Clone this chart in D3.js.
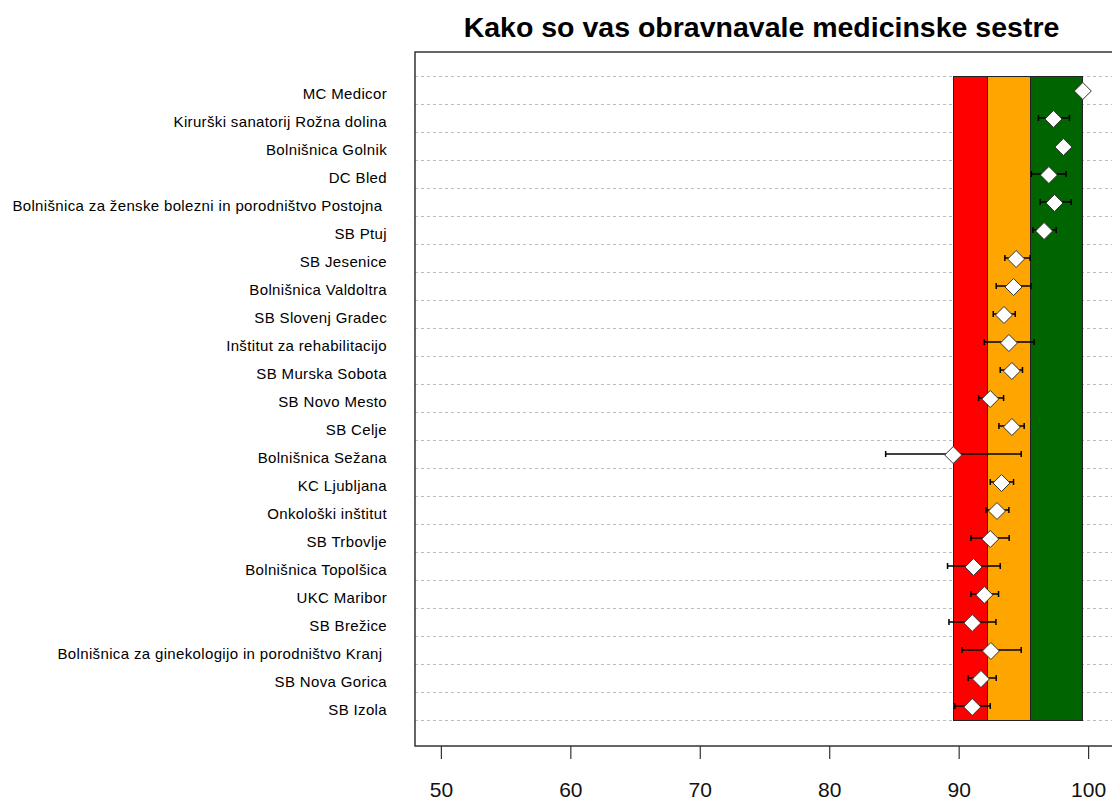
<!DOCTYPE html>
<html>
<head>
<meta charset="utf-8">
<script src="https://cdn.jsdelivr.net/npm/d3@7"></script>
<style>
  html, body { margin: 0; padding: 0; background: #fff; }
  svg { display: block; }
  text { font-family: "Liberation Sans", Arial, sans-serif; }
</style>
</head>
<body>
<svg id="chart" width="1112" height="800"></svg>
<script>
// ---- data ----
const categories = [
  "MC Medicor",
  "Kirurški sanatorij Rožna dolina",
  "Bolnišnica Golnik",
  "DC Bled",
  "Bolnišnica za ženske bolezni in porodništvo Postojna ",
  "SB Ptuj",
  "SB Jesenice",
  "Bolnišnica Valdoltra",
  "SB Slovenj Gradec",
  "Inštitut za rehabilitacijo",
  "SB Murska Sobota",
  "SB Novo Mesto",
  "SB Celje",
  "Bolnišnica Sežana",
  "KC Ljubljana",
  "Onkološki inštitut",
  "SB Trbovlje",
  "Bolnišnica Topolšica",
  "UKC Maribor",
  "SB Brežice",
  "Bolnišnica za ginekologijo in porodništvo Kranj ",
  "SB Nova Gorica",
  "SB Izola"
];
const means = [99.59, 97.32, 98.09, 96.97, 97.40, 96.60, 94.44, 94.24, 93.50, 93.88, 94.11, 92.44,
               94.11, 89.58, 93.31, 92.96, 92.44, 91.15, 91.98, 91.05, 92.49, 91.72, 91.05];
const lower = [99.59, 96.16, 97.75, 95.62, 96.30, 95.73, 93.57, 92.90, 92.67, 91.98, 93.21, 91.54,
               93.11, 84.36, 92.44, 92.11, 90.95, 89.14, 90.95, 89.25, 90.25, 90.74, 89.71];
const upper = [99.59, 98.56, 98.40, 98.30, 98.69, 97.53, 95.52, 95.58, 94.37, 95.83, 94.93, 93.47,
               95.06, 94.83, 94.24, 93.88, 93.90, 93.21, 93.08, 92.88, 94.83, 92.90, 92.44];
const bandBreaks = [89.58, 92.21, 95.58, 99.59];
const bandColors = ["#ff0000", "#ffa500", "#006400"];
const xTicks = [50, 60, 70, 80, 90, 100];
const title = "Kako so vas obravnavale medicinske sestre";

// ---- layout ----
const svg = d3.select("#chart");
const frame = { left: 415, right: 1114, top: 52, bottom: 746 };

const x = d3.scaleLinear().domain([48, 102]).range([frame.left, frame.right]);
const y = d3.scaleBand().domain(categories).range([76, 720]).padding(0);
const bw = y.bandwidth();

// gridlines (row boundaries, dashed)
const gridPos = categories.map(c => y(c)).concat([y(categories[categories.length - 1]) + bw]);
svg.append("g").selectAll("line").data(gridPos).join("line")
  .attr("x1", frame.left).attr("x2", frame.right)
  .attr("y1", d => d).attr("y2", d => d)
  .attr("stroke", "#bdbdbd").attr("stroke-width", 1)
  .attr("stroke-dasharray", "3,3")
  .attr("shape-rendering", "crispEdges");

// colour bands
const bands = d3.range(bandColors.length).map(i => ({ a: bandBreaks[i], b: bandBreaks[i + 1], c: bandColors[i] }));
const bandTop = y(categories[0]);
const bandBottom = y(categories[categories.length - 1]) + bw;
svg.append("g").selectAll("rect").data(bands).join("rect")
  .attr("x", d => x(d.a)).attr("width", d => x(d.b) - x(d.a))
  .attr("y", bandTop).attr("height", bandBottom - bandTop)
  .attr("fill", d => d.c).attr("stroke", "#222").attr("stroke-width", 1)
  .attr("shape-rendering", "crispEdges");

// error bars
const rows = categories.map((c, i) => ({ c, m: means[i], lo: lower[i], hi: upper[i] }));
const eb = svg.append("g").attr("stroke", "#000").attr("stroke-width", 1.5);
eb.selectAll("line.h").data(rows).join("line").attr("class", "h")
  .attr("x1", d => x(d.lo)).attr("x2", d => x(d.hi))
  .attr("y1", d => y(d.c) + bw / 2).attr("y2", d => y(d.c) + bw / 2);
eb.selectAll("line.l").data(rows).join("line").attr("class", "l")
  .attr("x1", d => x(d.lo)).attr("x2", d => x(d.lo))
  .attr("y1", d => y(d.c) + bw / 2 - 3).attr("y2", d => y(d.c) + bw / 2 + 3);
eb.selectAll("line.r").data(rows).join("line").attr("class", "r")
  .attr("x1", d => x(d.hi)).attr("x2", d => x(d.hi))
  .attr("y1", d => y(d.c) + bw / 2 - 3).attr("y2", d => y(d.c) + bw / 2 + 3);

// diamonds
const dw = 8.5, dh = 8.5;
svg.append("g").selectAll("path").data(rows).join("path")
  .attr("transform", d => `translate(${x(d.m)},${y(d.c) + bw / 2 + 1})`)
  .attr("d", `M0,${-dh}L${dw},0L0,${dh}L${-dw},0Z`)
  .attr("fill", "#fff").attr("stroke", "#333").attr("stroke-width", 1);

// category labels
svg.append("g").selectAll("text").data(categories).join("text")
  .attr("x", 387).attr("y", d => y(d) + bw / 2 + 9)
  .attr("text-anchor", "end")
  .attr("font-size", 15)
  .attr("letter-spacing", 0.35)
  .attr("fill", "#000")
  .style("white-space", "pre")
  .text(d => d);

// frame
svg.append("rect")
  .attr("x", frame.left).attr("y", frame.top)
  .attr("width", frame.right - frame.left).attr("height", frame.bottom - frame.top)
  .attr("fill", "none").attr("stroke", "#333").attr("stroke-width", 1.5);

// x axis
const axis = d3.axisBottom(x).tickValues(xTicks).tickSize(13).tickPadding(23).tickFormat(d3.format("d"));
const ag = svg.append("g").attr("transform", `translate(0,${frame.bottom})`).call(axis);
ag.select(".domain").remove();
ag.selectAll(".tick line").attr("stroke", "#333").attr("stroke-width", 1.2);
ag.selectAll(".tick text").attr("font-size", 21).attr("fill", "#111")
  .attr("font-family", "\"Liberation Sans\", Arial, sans-serif");

// title
svg.append("text")
  .attr("x", (frame.left + 1108) / 2).attr("y", 37)
  .attr("text-anchor", "middle")
  .attr("font-size", 28.5).attr("font-weight", "bold")
  .text(title);
</script>
</body>
</html>
